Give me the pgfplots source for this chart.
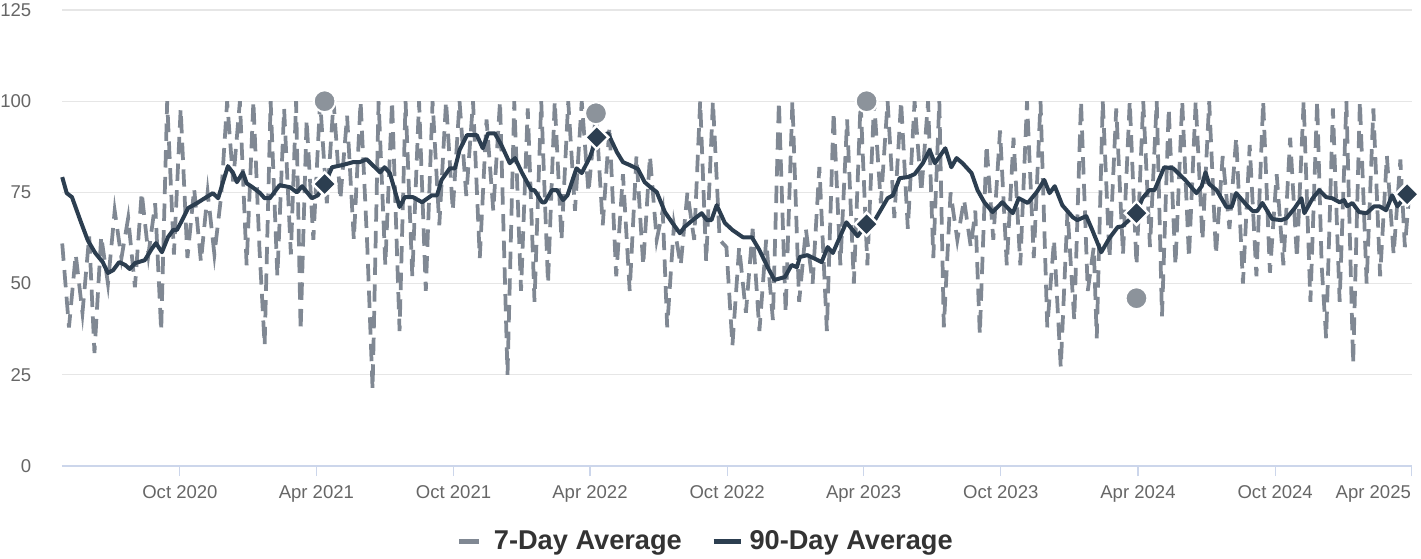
\documentclass[border=0pt]{standalone}
\usepackage{pgfplots}
\pgfplotsset{compat=1.18}
\usepackage{fontspec}
\setmainfont{Liberation Sans}
\definecolor{sevengray}{HTML}{808893}
\definecolor{circgray}{HTML}{8C939B}
\definecolor{navy}{HTML}{2C3E50}
\definecolor{ticklab}{HTML}{666666}
\definecolor{axisblue}{HTML}{CCD6EB}
\definecolor{gridc}{HTML}{E6E6E6}
\definecolor{legtext}{HTML}{333333}
\begin{document}
\begin{tikzpicture}
\begin{axis}[
  scale only axis, width=1012.5pt, height=342pt,
  xmin=-157.3, xmax=1643.5, ymin=0, ymax=125,
  clip=false,
  axis x line*=bottom, axis y line*=left,
  y axis line style={draw=none},
  x axis line style={draw=axisblue, line width=1.2pt, -},
  ytick={0,25,50,75,100,125},
  ymajorgrids, grid style={draw=gridc, line width=0.8pt},
  ytick style={draw=none},
  xtick={0,182,365,547,730,912,1095,1278,1461},
  xticklabels={Oct 2020,Apr 2021,Oct 2021,Apr 2022,Oct 2022,Apr 2023,Oct 2023,Apr 2024,Oct 2024},
  extra x ticks={1643},
  extra x tick labels={Apr 2025},
  extra x tick style={xticklabel style={anchor=north east, xshift=3pt}},
  tick align=outside, major tick length=7.5pt,
  xtick style={draw=axisblue, line width=0.8pt},
  /pgf/number format/assume math mode=true,
  tick label style={font=\fontsize{13.9}{16}\selectfont, text=ticklab},
  yticklabel style={xshift=-12pt},
  xticklabel style={yshift=-3.5pt},
  legend style={at={(0.477,-0.165)}, anchor=center, draw=none, fill=none,
    legend columns=2, font=\bfseries\fontsize{20.4}{24}\selectfont, text=legtext,
    /tikz/every even column/.append style={column sep=20pt}},
]
\addplot[sevengray, line width=2.8pt, dash pattern=on 13pt off 7pt,
  legend image code/.code={\draw[sevengray, solid, line width=4pt] (0pt,0pt) -- (15pt,0pt); \path[draw=none] (0pt,0pt) -- (24pt,0pt);}]
coordinates {
(-157,61)(-148,38)(-139,58)(-130,42)(-121,63)(-114,31)(-105,63)(-96,50)(-87,70)(-78,57)
(-69,68)(-60,49)(-51,75)(-42,58)(-33,72)(-25,37)(-17,100)(-8,58)(1,98)(10,57)
(19,76)(28,56)(37,75)(46,58)(55,74)(63,100)(71,78)(80,100)(89,55)(98,100)
(106,60)(113,33)(121,100)(130,52)(139,98)(148,58)(155,100)(161,37)(169,95)(178,62)
(187,100)(196,72)(205,100)(214,73)(223,96)(232,62)(241,100)(250,60)(257,21)(265,100)
(274,55)(283,100)(293,37)(301,100)(310,52)(319,100)(328,48)(337,100)(346,66)(355,100)
(364,70)(373,100)(382,74)(391,100)(400,57)(409,95)(418,70)(427,100)(437,25)(446,100)
(455,48)(464,98)(473,45)(482,100)(491,50)(500,100)(509,62)(518,100)(527,70)(536,100)
(545,75)(555,97)(564,66)(573,93)(582,52)(591,80)(600,48)(609,85)(618,55)(627,85)
(636,62)(644,70)(650,38)(659,66)(668,55)(677,75)(686,62)(694,100)(702,56)(711,100)
(720,62)(729,60)(737,33)(746,60)(755,42)(764,65)(773,37)(782,62)(791,40)(799,100)
(808,42)(817,100)(826,45)(835,65)(844,50)(853,82)(863,37)(872,97)(881,55)(890,95)
(899,50)(908,100)(917,55)(926,100)(935,72)(944,100)(953,68)(962,100)(971,65)(980,100)
(989,75)(998,100)(1005,57)(1013,100)(1019,38)(1028,75)(1037,62)(1046,73)(1055,60)(1061,70)
(1067,36)(1076,88)(1085,62)(1094,92)(1103,55)(1112,90)(1121,55)(1130,100)(1139,57)(1148,100)
(1157,38)(1166,62)(1175,27)(1184,70)(1193,40)(1202,100)(1211,48)(1219,60)(1223,35)(1231,100)
(1240,57)(1249,98)(1258,58)(1267,100)(1276,55)(1285,100)(1294,60)(1303,100)(1310,41)(1319,98)
(1328,55)(1337,100)(1346,57)(1355,100)(1364,62)(1373,100)(1382,58)(1391,85)(1400,65)(1409,90)
(1418,50)(1427,88)(1436,52)(1445,100)(1454,53)(1463,80)(1472,55)(1481,90)(1490,57)(1499,100)
(1508,45)(1517,100)(1523,55)(1529,35)(1538,98)(1547,45)(1556,100)(1565,28)(1574,100)(1583,50)
(1592,98)(1601,52)(1610,85)(1619,58)(1628,84)(1634,60)(1640,75)
};
\addlegendentry{7-Day Average}
\addplot[navy, line width=3pt, line join=round,
  legend image code/.code={\draw[navy, solid, line width=3.5pt] (0pt,0pt) -- (20.5pt,0pt); \path[draw=none] (0pt,0pt) -- (25pt,0pt);}]
coordinates {
(-157,79.2)(-151,74.8)(-144,73.7)(-133,67.4)(-123,61.9)(-113,58.4)(-103,55.9)(-96,52.9)(-89,53.7)(-81,55.9)
(-73,55.1)(-67,54)(-60,55.6)(-47,56.4)(-37,59.7)(-32,61.1)(-24,58.6)(-16,62.7)(-9,64.7)(-4,64.7)
(3,67.4)(11,70.7)(23,72.1)(33,73.4)(44,74.8)(51,73.4)(57,77.5)(64,82.2)(71,80.3)(76,77.8)
(84,80.5)(89,77.5)(97,76.4)(107,74.8)(113,73.4)(120,73.4)(133,77)(147,76.4)(156,75)(163,76.7)
(176,73.4)(184,74.2)(193,77.3)(203,81.9)(217,82.5)(231,83.3)(240,83.3)(249,84.1)(257,82.5)(267,80.5)
(273,81.9)(280,80.3)(293,71)(300,73.7)(311,73.7)(323,72.3)(336,74.2)(343,74.2)(349,78.4)(360,81.6)
(367,81.6)(373,86.6)(383,90.7)(396,90.7)(404,87.1)(411,91.2)(420,91.2)(429,87.9)(440,83)(447,84.4)
(456,80.5)(469,75.6)(473,75.6)(483,72.3)(487,72.3)(496,75.6)(503,75.6)(511,72.9)(517,74.2)(529,81.6)
(536,80.3)(547,84.7)(556,90.1)(571,91.2)(583,86)(591,83.3)(600,82.5)(611,81.4)(620,77.8)(629,76.2)
(636,75.1)(647,69.6)(657,66.6)(667,63.8)(673,65.5)(684,67.4)(696,69.3)(703,67.4)(709,67.4)(716,71.5)
(727,66.6)(737,64.7)(751,62.7)(763,62.7)(773,59.2)(784,54.5)(793,51)(807,51.8)(816,55.1)(823,54.5)
(827,57.3)(837,57.8)(856,55.9)(864,60)(871,58.4)(889,66.8)(904,63)(916,66.3)(927,67.4)(944,73.4)
(951,74.2)(960,78.9)(971,79.2)(980,80)(991,83)(1000,86.6)(1007,83)(1021,87.1)(1029,81.9)(1036,84.4)
(1044,83)(1056,80.3)(1064,75.6)(1073,72.3)(1084,69.6)(1097,72.3)(1111,69.3)(1119,73.4)(1131,72.1)(1143,75.1)
(1153,78.4)(1160,74.8)(1167,76.7)(1177,71.5)(1191,68.2)(1197,67.4)(1209,68.5)(1217,64.7)(1229,58.6)(1240,62.5)
(1251,65.5)(1257,65.7)(1276,69.3)(1284,73.4)(1293,75.6)(1300,75.6)(1313,81.9)(1325,81.6)(1341,78.4)(1356,74.8)
(1363,76.7)(1368,80.5)(1373,77.3)(1383,75.6)(1396,71)(1403,71)(1409,74.8)(1423,71.5)(1431,69.9)(1437,69.9)
(1444,72.1)(1457,67.7)(1469,67.4)(1476,67.9)(1487,70.7)(1496,73.4)(1500,69.3)(1511,73.4)(1520,75.6)(1529,73.7)
(1537,73.4)(1547,72.3)(1553,72.9)(1557,71.2)(1564,72.1)(1573,69.6)(1583,69.3)(1593,71.2)(1600,71.2)(1609,70.1)
(1617,74.2)(1624,71.2)(1637,74.5)
};
\addlegendentry{90-Day Average}
\addplot[forget plot, only marks, mark=*, mark size=8.2pt,
  mark options={fill=circgray, draw=white, line width=1.5pt}]
coordinates {(193,100)(555,96.7)(916,100)(1276,46)};
\addplot[forget plot, only marks, mark=square*, mark size=6.2pt,
  mark options={fill=navy, draw=white, line width=1.8pt, rotate=45}]
coordinates {(193,77.3)(556,90.1)(916,66.3)(1276,69.3)(1637,74.5)};
\end{axis}
\pgfresetboundingbox
\path (-46.5pt,-69pt) rectangle (1019.25pt,349.5pt);
\end{tikzpicture}
\end{document}
